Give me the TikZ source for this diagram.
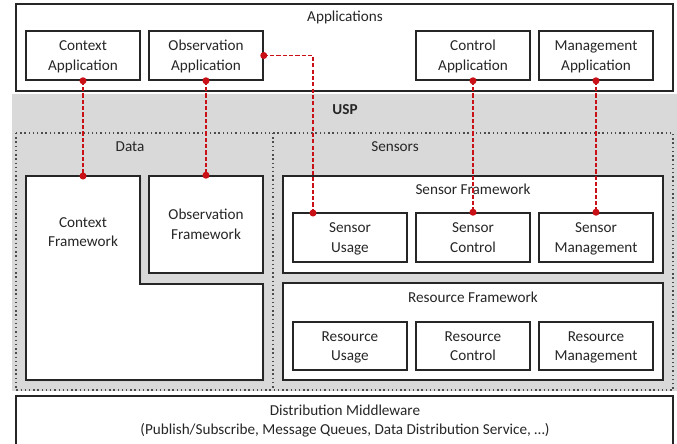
\documentclass[tikz,border=0pt]{standalone}
\usepackage{fontspec}
\setmainfont{Carlito}
\usetikzlibrary{shadows}
\definecolor{uspgray}{RGB}{217,217,217}
\definecolor{linkred}{RGB}{200,16,22}
\begin{document}
\begin{tikzpicture}[x=0.025cm,y=-0.025cm,
  font=\fontsize{10.8}{14}\selectfont,text=black!85,
  frame/.style={draw=black!85,line width=1.1pt,fill=white,drop shadow={shadow xshift=0.9pt,shadow yshift=-0.9pt,fill=black!30}},
  box/.style={frame,minimum width=2.85cm,minimum height=1.225cm,align=center,inner sep=0pt,text depth=0pt},
  link/.style={draw=linkred,line width=1pt,dash pattern=on 3pt off 1.5pt},
  dot/.style={circle,fill=linkred,inner sep=0pt,minimum size=5pt}]
\clip (0,0) rectangle (677,443);
\fill[uspgray] (12,94) rectangle (677,391);
\node[font=\fontsize{10.8}{14}\bfseries] (usp) at (345,110) {USP};
\draw[frame] (16,4) rectangle (673,91);
\node (apps) at (345,17) {Applications};
\node[box] (ctxapp) at (83,55.5) {Context\\Application};
\node[box] (obsapp) at (206,55.5) {Observation\\Application};
\node[box] (ctlapp) at (473,55.5) {Control\\Application};
\node[box] (mgtapp) at (596,55.5) {Management\\Application};
\draw[black!70,dotted,line width=1pt] (16,133) rectangle (673,390) (273,133) -- (273,390);
\node (data) at (130,147) {Data};
\node (sensors) at (395,147) {Sensors};
\draw[frame] (26,176) -- (140,176) -- (140,284) -- (263,284) -- (263,380) -- (26,380) -- cycle;
\node[align=center] (ctxfw) at (83,232) {Context\\Framework};
\coordinate (ctxtop) at (83,176);
\node[box,minimum height=2.425cm] (obsfw) at (206,224.5) {Observation\\Framework};
\draw[frame] (283,176) rectangle (663,273);
\node (senfw) at (473,189) {Sensor Framework};
\node[box] (senuse) at (350,237.5) {Sensor\\Usage};
\node[box] (senctl) at (473,237.5) {Sensor\\Control};
\node[box] (senmgt) at (596,237.5) {Sensor\\Management};
\draw[frame] (283,283) rectangle (663,380);
\node (resfw) at (473,297) {Resource Framework};
\node[box,minimum height=1.2cm] (resuse) at (350,346) {Resource\\Usage};
\node[box,minimum height=1.2cm] (resctl) at (473,346) {Resource\\Control};
\node[box,minimum height=1.2cm] (resmgt) at (596,346) {Resource\\Management};
\draw[frame] (16,396) rectangle (673,470);
\node[align=center] (dist) at (345,421) {Distribution Middleware\\(Publish/Subscribe, Message Queues, Data Distribution Service, \ldots)};
\coordinate (usetop) at (313,213);
\draw[link] (ctxapp.south) -- (ctxtop);
\draw[link] (obsapp.south) -- (obsfw.north);
\draw[link] (obsapp.east) -| (usetop);
\draw[link] (ctlapp.south) -- (senctl.north);
\draw[link] (mgtapp.south) -- (senmgt.north);
\foreach \p in {ctxapp.south,ctxtop,obsapp.south,obsfw.north,obsapp.east,usetop,ctlapp.south,senctl.north,mgtapp.south,senmgt.north}
  \node[dot] at (\p) {};
\end{tikzpicture}
\end{document}
